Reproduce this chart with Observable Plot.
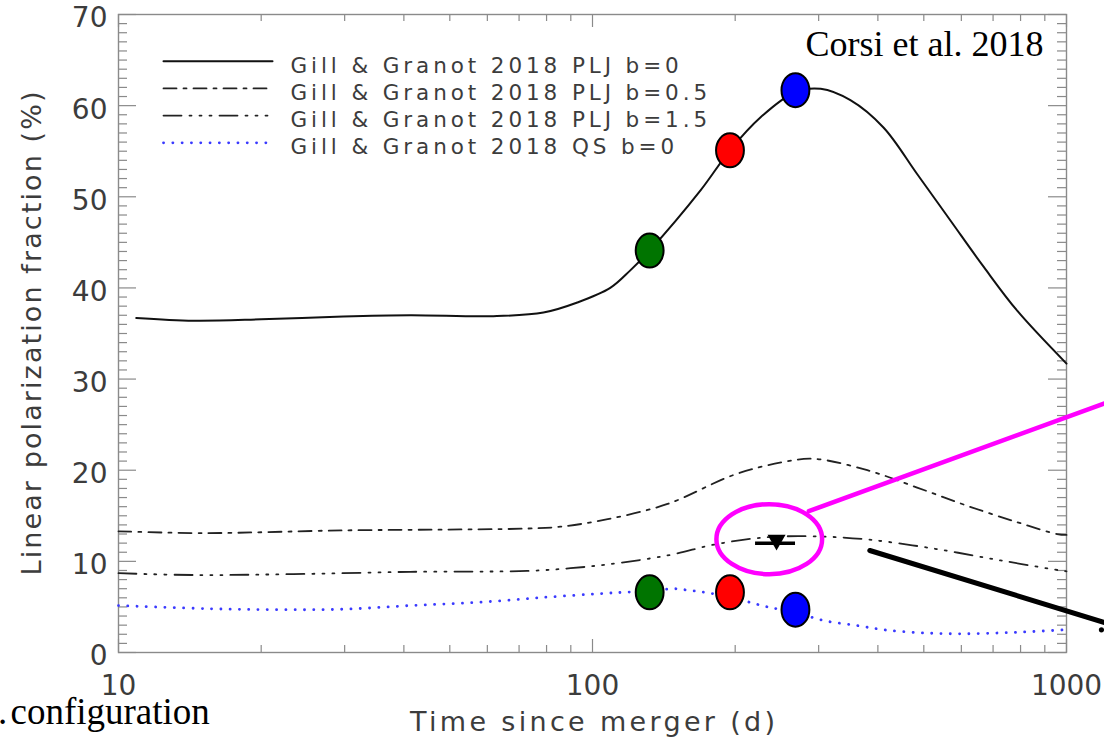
<!DOCTYPE html>
<html>
<head>
<meta charset="utf-8">
<script src="https://cdn.jsdelivr.net/npm/d3@7"></script>
<script src="https://cdn.jsdelivr.net/npm/@observablehq/plot@0.6"></script>
<style>
  html, body { margin: 0; padding: 0; background: #ffffff; }
  #chart svg { display: block; }
</style>
</head>
<body>
<div id="chart"></div>
<script>
// ---------- data ----------
// Gill & Granot 2018 PLJ b=0 (solid)
const tPLJ0 = [10.9, 14.4, 20, 29.8, 41.3, 61.8, 78.8, 92.9, 109, 120, 132, 169, 195, 226, 268, 303, 350, 411, 484, 569, 669, 787, 1000];
const pPLJ0 = [36.7, 36.4, 36.55, 36.87, 37.0, 36.9, 37.3, 38.4, 40.0, 41.9, 44.1, 50.7, 55.1, 58.7, 61.5, 61.85, 60.6, 57.6, 52.5, 47.4, 42.3, 37.5, 31.7];
// PLJ b=0.5 (dash-dot)
const tPLJ05 = [10, 15.1, 29.8, 52.7, 72.8, 85.6, 107, 144, 199, 253, 293, 380, 484, 617, 787, 955, 1000];
const pPLJ05 = [13.3, 13.1, 13.4, 13.5, 13.6, 13.8, 14.6, 16.3, 19.5, 20.9, 21.25, 20.0, 18.1, 16.1, 14.3, 13.0, 12.9];
// PLJ b=1.5 (dash-dot-dot-dot)
const tPLJ15 = [10, 14.4, 23.4, 41.3, 72.8, 89.9, 107, 144, 183, 234, 293, 380, 525, 726, 970, 1000];
const pPLJ15 = [8.7, 8.5, 8.6, 8.85, 8.95, 9.25, 9.65, 10.65, 11.9, 12.65, 12.75, 12.4, 11.4, 10.1, 9.0, 8.9];
// QS b=0 (blue dotted)
const tQS0 = [10, 15.6, 21.6, 29.8, 41.3, 57.2, 78.8, 107, 116, 132, 148, 161, 175, 195, 215, 234, 268, 308, 362, 418, 500, 600, 726, 850, 1000];
const pQS0 = [5.15, 4.8, 4.7, 4.75, 5.15, 5.5, 6.05, 6.5, 6.6, 6.75, 7.0, 6.8, 6.55, 6.1, 5.5, 5.0, 4.4, 3.5, 2.95, 2.45, 2.15, 2.05, 2.15, 2.3, 2.5];

// coloured epoch markers
const markerT = [132, 195, 268];
const markerColors = ["#007400", "#ff0000", "#0000ff"];
const markerOnPLJ0 = [44.1, 55.1, 61.7];
const markerOnQS0 = [6.6, 6.6, 4.7];

// upper limit (triangle + bar)
const limitT = [244.5];
const limitP = [12.34];
const limitBarP = [12.0];
const limitBarT1 = [220.8];
const limitBarT2 = [268.1];

// annotations
const circleT = [236];
const circleP = [12.43];
const magentaLineT = [286, 1203];
const magentaLineP = [15.5, 27.34];
const blackLineT = [384.6, 1203];
const blackLineP = [11.19, 3.29];
const blackDotT = [1185];
const blackDotP = [2.49];

// labels and ticks
const seriesNames = [
  "Gill & Granot 2018 PLJ b=0",
  "Gill & Granot 2018 PLJ b=0.5",
  "Gill & Granot 2018 PLJ b=1.5",
  "Gill & Granot 2018 QS b=0"
];
const xMajorTicks = [10, 100, 1000];
const xMinorTicks = [20, 30, 40, 50, 60, 70, 80, 90, 200, 300, 400, 500, 600, 700, 800, 900];
const yMajorTicks = [0, 10, 20, 30, 40, 50, 60, 70];
const yMinorTicks = d3.range(0, 71).filter(d => d % 10 !== 0);
const xLabel = "Time since merger (d)";
const yLabel = "Linear polarization fraction (%)";
const creditText = "Corsi et al. 2018";
const cutText = "configuration";

// ---------- build ----------
const W = 1104, H = 742;
const mL = 118, mR = 38, mT = 14, mB = 90;
const fw = W - mL - mR, fh = H - mT - mB;

const rows = (T, P) => T.map((t, i) => ({t, p: P[i]}));
const styles = [
  {stroke: "#111", strokeWidth: 2, strokeDasharray: null},
  {stroke: "#222", strokeWidth: 1.8, strokeDasharray: "13,7,3,7"},
  {stroke: "#222", strokeWidth: 1.8, strokeDasharray: "18,8,2,8,2,8,2,8"},
  {stroke: "#3a3aff", strokeWidth: 2.8, strokeDasharray: "0.1,9.2", strokeLinecap: "round"}
];
const curves = [rows(tPLJ0, pPLJ0), rows(tPLJ05, pPLJ05), rows(tPLJ15, pPLJ15), rows(tQS0, pQS0)];

const KAPPA = 0.5522847498;
function ellipseSymbol(aspect) {
  return {
    draw(ctx, size) {
      const ry = Math.sqrt(size / Math.PI), rx = ry * aspect;
      const kx = rx * KAPPA, ky = ry * KAPPA;
      ctx.moveTo(rx, 0);
      ctx.bezierCurveTo(rx, ky, kx, ry, 0, ry);
      ctx.bezierCurveTo(-kx, ry, -rx, ky, -rx, 0);
      ctx.bezierCurveTo(-rx, -ky, -kx, -ry, 0, -ry);
      ctx.bezierCurveTo(kx, -ry, rx, -ky, rx, 0);
      ctx.closePath();
    }
  };
}
const lineShape = { draw(ctx, l) { ctx.moveTo(0, 0); ctx.lineTo(0, -l); } };

const markers = markerT.flatMap((t, i) => [
  {t, p: markerOnPLJ0[i], c: markerColors[i]},
  {t, p: markerOnQS0[i], c: markerColors[i]}
]);

const tickColor = "#8a8a8a";
const marks = [
  // ticks (IDL style, pointing inward on all four sides)
  Plot.tickY(yMajorTicks, {y: d => d, insetRight: fw - 18, stroke: tickColor, strokeWidth: 1.2}),
  Plot.tickY(yMajorTicks, {y: d => d, insetLeft: fw - 18, stroke: tickColor, strokeWidth: 1.2}),
  Plot.tickY(yMinorTicks, {y: d => d, insetRight: fw - 9, stroke: tickColor, strokeWidth: 1.2}),
  Plot.tickY(yMinorTicks, {y: d => d, insetLeft: fw - 9, stroke: tickColor, strokeWidth: 1.2}),
  Plot.tickX(xMajorTicks, {x: d => d, insetTop: fh - 13, stroke: tickColor, strokeWidth: 1.2}),
  Plot.tickX(xMajorTicks, {x: d => d, insetBottom: fh - 13, stroke: tickColor, strokeWidth: 1.2}),
  Plot.tickX(xMinorTicks, {x: d => d, insetTop: fh - 7, stroke: tickColor, strokeWidth: 1.2}),
  Plot.tickX(xMinorTicks, {x: d => d, insetBottom: fh - 7, stroke: tickColor, strokeWidth: 1.2}),
  Plot.frame({stroke: tickColor, strokeWidth: 1.4}),
  Plot.axisY({ticks: yMajorTicks, tickSize: 0, tickPadding: 11, fontSize: 28, dy: 4, label: null, tickFormat: d => String(d)}),
  Plot.axisX({ticks: xMajorTicks, tickSize: 0, tickPadding: 23, fontSize: 28, label: null, tickFormat: d => String(d)}),
  Plot.text([xLabel], {text: d => d, frameAnchor: "bottom", dy: 70, fontSize: 27, textAnchor: "middle", lineAnchor: "middle"}),
  Plot.text([yLabel], {text: d => d, frameAnchor: "left", dx: -86, rotate: -90, fontSize: 27, textAnchor: "middle", lineAnchor: "middle"}),
  // model curves
  ...curves.map((data, i) => Plot.line(data, {x: "t", y: "p", curve: "catmull-rom", ...styles[i]})),
  // legend
  ...styles.map((s, i) => Plot.vector([0], {frameAnchor: "top-left", dx: 45, dy: 46.7 + 27.2 * i, length: 109, rotate: 90, anchor: "start", shape: lineShape, ...s})),
  Plot.text([seriesNames.join("\n")], {text: d => d, frameAnchor: "top-left", dx: 172, dy: 39, textAnchor: "start", lineAnchor: "top", fontSize: 21.5, lineHeight: 1.265}),
  // epoch markers
  Plot.dot(markers, {x: "t", y: "p", r: 17, symbol: ellipseSymbol(0.82), fill: "c", stroke: "black", strokeWidth: 2}),
  // annotations
  Plot.dot(rows(circleT, circleP), {x: "t", y: "p", r: 35, symbol: ellipseSymbol(1.51), fill: "none", stroke: "#ff00ff", strokeWidth: 4.5}),
  Plot.line(rows(magentaLineT, magentaLineP), {x: "t", y: "p", stroke: "#ff00ff", strokeWidth: 4.5}),
  Plot.line(rows(blackLineT, blackLineP), {x: "t", y: "p", stroke: "black", strokeWidth: 5}),
  Plot.dot(rows(blackDotT, blackDotP), {x: "t", y: "p", r: 2.6, fill: "black"}),
  Plot.dot(rows(limitT, limitP), {x: "t", y: "p", symbol: "triangle", rotate: 180, r: 6.7, fill: "black"}),
  Plot.ruleY(limitBarP.map((p, i) => ({p, t1: limitBarT1[i], t2: limitBarT2[i]})), {y: "p", x1: "t1", x2: "t2", stroke: "black", strokeWidth: 3.5}),
  Plot.text([creditText], {text: d => d, frameAnchor: "top-right", dx: -23, dy: 41, textAnchor: "end", lineAnchor: "bottom", fontFamily: "Liberation Serif", fontSize: 36, fill: "black"}),
  Plot.text([cutText], {text: d => d, frameAnchor: "bottom-left", dx: -108, dy: 71, textAnchor: "start", lineAnchor: "bottom", fontFamily: "Liberation Serif", fontSize: 37, fill: "black"}),
  Plot.text(["."], {text: d => d, frameAnchor: "bottom-left", dx: -120.6, dy: 71, textAnchor: "start", lineAnchor: "bottom", fontFamily: "Liberation Serif", fontSize: 37, fill: "black"})
];

const chart = Plot.plot({
  width: W, height: H,
  marginLeft: mL, marginRight: mR, marginTop: mT, marginBottom: mB,
  x: {type: "log", domain: [10, 1000]},
  y: {domain: [0, 70]},
  style: {background: "#ffffff", color: "#3c3c3c", fontFamily: "'DejaVu Sans', sans-serif"},
  marks
});

// widen the IDL-style lettering
d3.select(chart).selectAll("text").each(function () {
  const s = this.textContent;
  if (s.startsWith("Gill")) this.style.letterSpacing = "3.9px";
  else if (s === xLabel) { this.setAttribute("textLength", 365); this.setAttribute("lengthAdjust", "spacing"); }
  else if (s === yLabel) { this.setAttribute("textLength", 484); this.setAttribute("lengthAdjust", "spacing"); }
});
document.getElementById("chart").appendChild(chart);
</script>
</body>
</html>
